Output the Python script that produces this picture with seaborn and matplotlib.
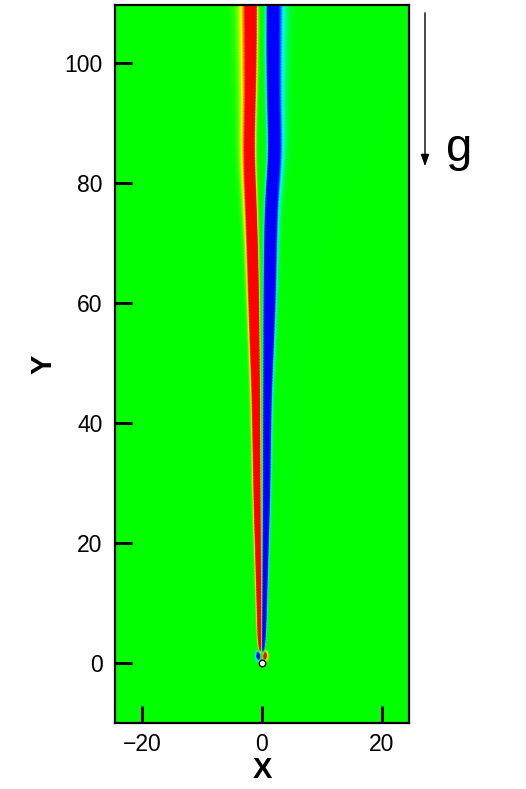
import numpy as np
import matplotlib
matplotlib.use("Agg")
import matplotlib.pyplot as plt
from matplotlib.colors import LinearSegmentedColormap, Normalize
import seaborn as sns

# ---- data (wake of a settling particle) ----
y_st     = [0.0, 1.5, 4.0, 10.0, 27.0, 44.0, 60.0, 70.0, 77.0, 82.0, 86.0, 94.0, 102.0, 110.0]
red_c    = [0.0, -0.3, -0.4, -0.45, -0.75, -0.95, -1.3, -1.55, -1.8, -2.0, -2.1, -1.9, -1.85, -1.85]
red_hw   = [0.0, 0.2, 0.3, 0.35, 0.55, 0.65, 0.85, 0.9, 0.9, 0.9, 0.85, 0.85, 0.95, 1.0]
blue_c   = [0.0, 0.3, 0.4, 0.5, 0.8, 0.95, 1.3, 1.45, 1.6, 2.0, 2.2, 1.95, 1.9, 1.95]
blue_hw  = [0.0, 0.2, 0.3, 0.35, 0.55, 0.65, 0.95, 1.0, 1.0, 1.0, 1.0, 1.0, 1.05, 1.05]
edge_in  = [0.1, 0.1, 0.12, 0.14, 0.16, 0.18, 0.2, 0.22, 0.25, 0.28, 0.3, 0.32, 0.35, 0.35]
edge_out = [0.12, 0.12, 0.15, 0.2, 0.25, 0.3, 0.35, 0.45, 0.6, 0.75, 0.85, 1.0, 1.15, 1.25]
amp      = [0.0, 1.2, 1.8, 1.8, 1.8, 1.8, 1.8, 1.8, 1.8, 1.8, 1.8, 1.8, 1.8, 1.8]

# small counter-rotating lobes beside the particle
lobe_x   = [-0.45, 0.45]
lobe_y   = [1.3, 1.3]
lobe_amp = [-2.0, 2.0]
lobe_r   = [0.45, 0.45]

particle_x = [0.0]
particle_y = [0.0]

x_ticks = [-20, 0, 20]
y_ticks = [0, 20, 40, 60, 80, 100]

# ---- field on a grid ----
xg = np.linspace(-24.5, 24.5, 1200)
yg = np.linspace(-10, 110, 960)
X, Y = np.meshgrid(xg, yg)

def prof(v, sm=2.5):
    p = np.interp(yg, y_st, v)
    dy = yg[1] - yg[0]
    k = np.arange(-int(3 * sm / dy), int(3 * sm / dy) + 1) * dy
    k = np.exp(-0.5 * (k / sm) ** 2)
    k /= k.sum()
    pad = len(k) // 2
    pp = np.pad(p, pad, mode="edge")
    return np.convolve(pp, k, mode="valid")[:, None]

yy = yg[:, None]
rc, rh = prof(red_c), prof(red_hw)
bc, bh = prof(blue_c), prof(blue_hw)
ei, eo = prof(edge_in), prof(edge_out)
am = np.interp(yg, y_st, amp)[:, None]
am = np.where(yy < 0, 0.0, am)

def band(c, hw, e_left, e_right):
    e = np.where(X < c, e_left, e_right)
    return 0.5 * (1 - np.tanh((np.abs(X - c) - hw) / e))

W = am * (band(rc, rh, eo, ei) - band(bc, bh, ei, eo))
for lx, ly, la, lr in zip(lobe_x, lobe_y, lobe_amp, lobe_r):
    W += la * np.exp(-(((X - lx) / lr) ** 2 + ((Y - ly) / (1.6 * lr)) ** 2))

cmap = LinearSegmentedColormap.from_list(
    "tec", ["#0000ff", "#00ffff", "#00ff00", "#ffff00", "#ff0000"])

# ---- plot ----
sns.set_style("ticks")
plt.rcParams["font.family"] = ["Liberation Sans", "DejaVu Sans"]

fig = plt.figure(figsize=(5.26, 7.89), dpi=100)
ax = fig.add_axes([115 / 526, 66 / 789, 294 / 526, 718 / 789])
ax.set_axisbelow(False)
ax.pcolormesh(xg, yg, W, cmap=cmap, norm=Normalize(-1, 1), shading="gouraud",
              rasterized=True, zorder=0)
ax.scatter(particle_x, particle_y, s=22, c="white", edgecolors="black",
           linewidths=1.0, zorder=5)

ax.set_xlim(-24.5, 24.5)
ax.set_ylim(-10, 109.7)
ax.set_xticks(x_ticks)
ax.set_yticks(y_ticks)
ax.tick_params(direction="in", length=12, width=2.2, labelsize=16.5, pad=9,
               colors="black")
ax.tick_params(axis="x", pad=7)
for s in ax.spines.values():
    s.set_linewidth(1.6)
    s.set_color("black")
    s.set_zorder(6)
ax.set_xlabel("X", fontsize=21, fontweight="bold", labelpad=0, color="black")
ax.set_ylabel("Y", fontsize=21, fontweight="bold", labelpad=5, color="black")

# gravity arrow and label
fig.patches.append(matplotlib.patches.FancyArrowPatch(
    (425 / 526, 1 - 10 / 789), (425 / 526, 1 - 169 / 789),
    transform=fig.transFigure, arrowstyle="-|>,head_length=7,head_width=2.5",
    color="black", linewidth=1.0, mutation_scale=1))
fig.text(446 / 526, 1 - 161 / 789, "g", fontsize=34, ha="left",
         va="baseline", color="black")

fig.savefig("out.png", dpi=100)
